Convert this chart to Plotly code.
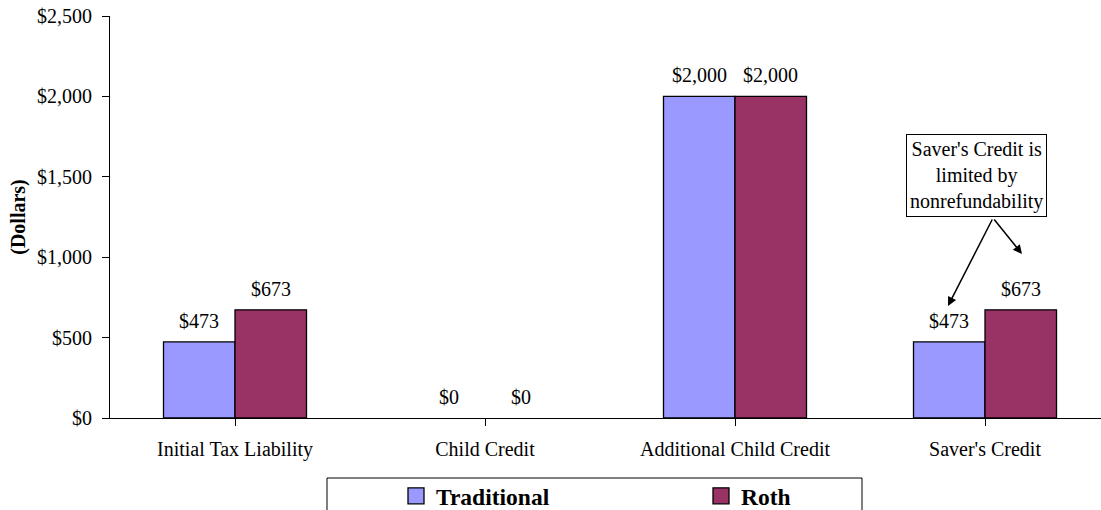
import plotly.graph_objects as go

categories = ["Initial Tax Liability", "Child Credit", "Additional Child Credit", "Saver's Credit"]
traditional = [473, 0, 2000, 473]
roth = [673, 0, 2000, 673]
y_ticks = [0, 500, 1000, 1500, 2000, 2500]
y_tick_labels = ["$0", "$500", "$1,000", "$1,500", "$2,000", "$2,500"]

FONT = "Liberation Serif, Times New Roman, serif"
FS = 20
W, H = 1101, 510
ML, MT, MB = 110, 16, 92
BARGAP = 0.428
half_bar = (1 - BARGAP) / 4

fig = go.Figure()
series = [("Traditional", traditional, "#9999FF", -half_bar), ("Roth", roth, "#993366", half_bar)]
for name, vals, col, off in series:
    fig.add_trace(go.Bar(
        name=name, x=list(range(len(categories))), y=vals, showlegend=False,
        marker=dict(color=col, line=dict(color="black", width=[1.3 if v else 0 for v in vals])),
    ))
    for i, v in enumerate(vals):
        fig.add_annotation(x=i + off, y=v, xref="x", yref="y", text=f"${v:,}",
                           showarrow=False, yanchor="bottom", yshift=8,
                           font=dict(family=FONT, size=FS, color="black"))
    # legend entry
    fig.add_trace(go.Scatter(
        name=name, x=[None], y=[None], mode="markers",
        marker=dict(symbol="square", size=16, color=col, line=dict(color="black", width=1.3)),
    ))

pw = W - ML  # plot width in px
cat_px = 250.0
xr_end = -0.5 + pw / cat_px

def px2x(px):
    return (px - ML) / cat_px - 0.5

def py2y(py):
    return (418 - py) / 402 * 2500

tail = (px2x(993), py2y(218))
for hx, hy in [(948, 306), (1022, 254)]:
    fig.add_annotation(
        x=px2x(hx), y=py2y(hy), ax=tail[0], ay=tail[1],
        xref="x", yref="y", axref="x", ayref="y",
        text="", showarrow=True, arrowhead=2, arrowsize=1.2, arrowwidth=1.5, arrowcolor="black",
    )
fig.add_annotation(
    x=px2x(976.5), y=py2y(175), xref="x", yref="y",
    text="Saver's Credit is<br>limited by<br>nonrefundability", showarrow=False,
    font=dict(family=FONT, size=FS, color="black"),
    bordercolor="black", borderwidth=1, bgcolor="white", borderpad=3,
)

# legend frame
fig.add_shape(type="rect", xref="paper", yref="paper",
              x0=(327 - ML) / pw, x1=(862 - ML) / pw,
              y0=(418 - 530) / 402, y1=(418 - 478) / 402,
              line=dict(color="black", width=1), fillcolor="white")

fig.update_layout(
    width=W, height=H,
    margin=dict(l=ML, r=0, t=MT, b=MB, pad=0, autoexpand=False),
    paper_bgcolor="white", plot_bgcolor="white",
    font=dict(family=FONT, size=FS, color="black"),
    barmode="group", bargap=BARGAP, bargroupgap=0,
    showlegend=True,
    legend=dict(orientation="h", x=(396 - ML) / pw, xanchor="left",
                y=(418 - 474) / 402, yanchor="top",
                font=dict(family=FONT, size=23.5, color="black", weight="bold"),
                entrywidth=260, entrywidthmode="pixels", itemsizing="trace",
                bgcolor="rgba(0,0,0,0)", borderwidth=0, itemclick=False),
    xaxis=dict(range=[-0.5, xr_end], tickmode="array", tickvals=list(range(len(categories))),
               ticktext=categories, tickson="boundaries", ticks="outside", ticklen=7,
               tickcolor="black", showline=True, linecolor="black", linewidth=1,
               showgrid=False, zeroline=False, tickfont=dict(family=FONT, size=FS),
               ticklabelstandoff=6),
    yaxis=dict(range=[0, 2500], tickmode="array", tickvals=y_ticks, ticktext=y_tick_labels,
               ticks="outside", ticklen=7, tickcolor="black", showline=True, linecolor="black",
               linewidth=1, showgrid=False, zeroline=False, tickfont=dict(family=FONT, size=FS),
               ticklabelstandoff=6,
               title=dict(text="<b>(Dollars)</b>", font=dict(family=FONT, size=FS), standoff=6)),
)
fig.write_html("out.html")
